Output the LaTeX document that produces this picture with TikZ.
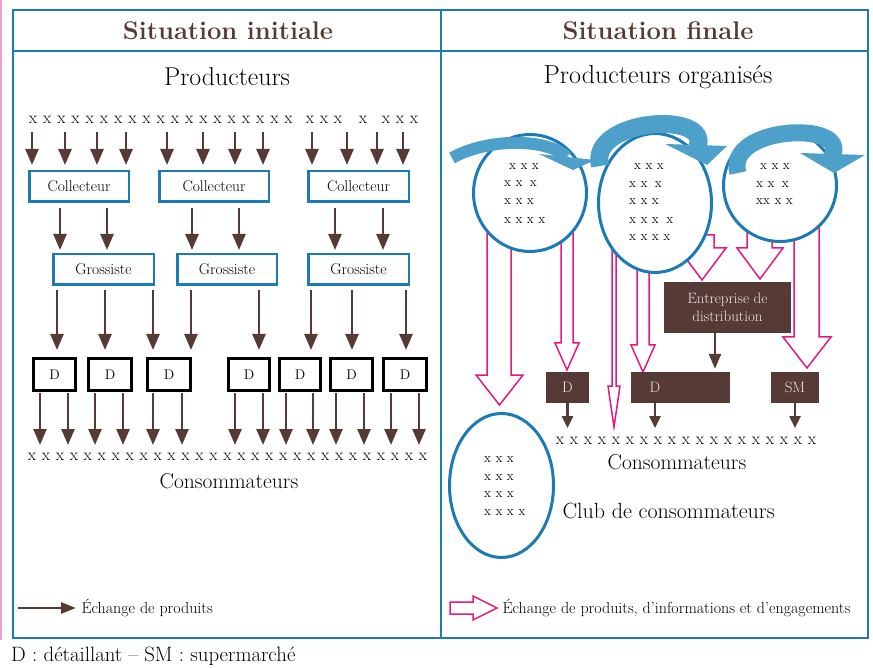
\documentclass[tikz,border=0pt]{standalone}
\usetikzlibrary{arrows.meta,shapes.geometric}
\definecolor{brn}{RGB}{85,58,53}
\definecolor{frameblue}{RGB}{28,122,180}
\definecolor{arrblue}{RGB}{76,160,202}
\definecolor{pnk}{RGB}{229,25,127}
\definecolor{lpnk}{RGB}{236,160,205}
\definecolor{boxtxt}{RGB}{240,232,228}
\begin{document}
\begin{tikzpicture}[x=1pt,y=-1pt,
 fs/.style={font=\fontsize{#1}{#1}\selectfont},
 brarrow/.style={draw=brn, line width=2.5pt, -{Triangle[width=13pt,length=16pt]}},
 smarrow/.style={draw=brn, line width=2.5pt, -{Triangle[width=11pt,length=12pt]}},
 bluebox/.style={draw=frameblue, line width=2.5pt, fill=white, minimum height=30.5pt, inner sep=0pt, font=\fontsize{15.5}{15.5}\selectfont},
 dbox/.style={draw=black, line width=3pt, fill=white, minimum height=32pt, inner sep=0pt, font=\fontsize{14}{14}\selectfont},
 brbox/.style={fill=brn, text=boxtxt, inner sep=0pt, minimum height=31pt, font=\fontsize{15}{15}\selectfont},
 pinkarr/.style={draw=pnk, line width=1.5pt, fill=white, line join=miter},
 circ/.style={draw=frameblue, line width=3pt, fill=white, ellipse, inner sep=0pt},
 bluearr/.style={draw=arrblue, line cap=butt},
 bluehead/.style={fill=arrblue},
 xs/.style={font=\fontsize{13.5}{13.5}\selectfont, anchor=west, inner sep=0pt},
 bigx/.style={font=\fontsize{17}{17}\selectfont, inner sep=0pt},
]
\useasboundingbox (0,0) rectangle (873,668);
% left pink edge
\draw[lpnk, line width=1.5pt] (1,0) -- (1,640);
% frame
\draw[frameblue, line width=2.5pt] (13,10) rectangle (868,638);
\draw[frameblue, line width=2.5pt] (441,10) -- (441,638);
\draw[frameblue, line width=2.5pt] (13,51) -- (868,51);
% headers
\node[text=brn, font=\fontsize{25.5}{25.5}\selectfont\bfseries] (h1) at (228,31) {Situation initiale};
\node[text=brn, font=\fontsize{25.5}{25.5}\selectfont\bfseries] (h2) at (658,31) {Situation finale};
\node[fs=25.8] (prodL) at (227,77) {Producteurs};
\node[fs=26] (prodR) at (658,77) {Producteurs organisés};

%% ---------------- LEFT PANEL ----------------
% producer row
\foreach \x [count=\i] in {33,47.2,61.4,75.6,89.8,104,118.2,132.4,146.6,160.8,175,189.2,203.4,217.6,231.8,246,260.2,274.4,288.6,310,324,338,363,386,400,414}
  \node[bigx] (p\i) at (\x,120) {x};
% boxes
\node[bluebox, minimum width=99.5pt]  (coll1) at (79,186.5) {Collecteur};
\node[bluebox, minimum width=109.5pt] (coll2) at (214,186.5) {Collecteur};
\node[bluebox, minimum width=100.5pt] (coll3) at (358.5,186.5) {Collecteur};
\node[bluebox, minimum width=100.5pt] (gro1) at (103.5,269.5) {Grossiste};
\node[bluebox, minimum width=99.5pt]  (gro2) at (227,269.5) {Grossiste};
\node[bluebox, minimum width=100.5pt] (gro3) at (358.5,269.5) {Grossiste};
\node[dbox, minimum width=42pt] (d1) at (54.5,374.5) {D};
\node[dbox, minimum width=43pt] (d2) at (110,374.5) {D};
\node[dbox, minimum width=43pt] (d3) at (169,374.5) {D};
\node[dbox, minimum width=41pt] (d4) at (249,374.5) {D};
\node[dbox, minimum width=41pt] (d5) at (300,374.5) {D};
\node[dbox, minimum width=42pt] (d6) at (351.5,374.5) {D};
\node[dbox, minimum width=43pt] (d7) at (405,374.5) {D};
% producers -> collecteurs
\foreach \x in {32,65,97,126} \draw[brarrow, shorten >=5pt] (\x,132) -- (coll1.north -| \x,0);
\foreach \x in {167,203,235,263} \draw[brarrow, shorten >=5pt] (\x,132) -- (coll2.north -| \x,0);
\foreach \x in {312,347,377,403} \draw[brarrow, shorten >=5pt] (\x,132) -- (coll3.north -| \x,0);
% collecteurs -> grossistes
\foreach \x in {60,107} \draw[brarrow, shorten <=5pt, shorten >=3pt] (coll1.south -| \x,0) -- (gro1.north -| \x,0);
\foreach \x in {192,239} \draw[brarrow, shorten <=5pt, shorten >=3pt] (coll2.south -| \x,0) -- (gro2.north -| \x,0);
\foreach \x in {335,383} \draw[brarrow, shorten <=5pt, shorten >=3pt] (coll3.south -| \x,0) -- (gro3.north -| \x,0);
% grossistes -> D
\draw[brarrow, shorten <=4pt, shorten >=7pt] (gro1.south -| 57,0) -- (d1.north -| 57,0);
\draw[brarrow, shorten <=4pt, shorten >=7pt] (gro1.south -| 105,0) -- (d2.north -| 105,0);
\draw[brarrow, shorten <=4pt, shorten >=7pt] (gro1.south -| 153,0) -- (d3.north -| 153,0);
\draw[brarrow, shorten <=4pt, shorten >=7pt] (gro2.south -| 191,0) -- (d3.north -| 191,0);
\draw[brarrow, shorten <=4pt, shorten >=7pt] (gro2.south -| 259,0) -- (d4.north -| 259,0);
\draw[brarrow, shorten <=4pt, shorten >=7pt] (gro3.south -| 311,0) -- (d5.north -| 311,0);
\draw[brarrow, shorten <=4pt, shorten >=7pt] (gro3.south -| 352,0) -- (d6.north -| 352,0);
\draw[brarrow, shorten <=4pt, shorten >=7pt] (gro3.south -| 406,0) -- (d7.north -| 406,0);
% consumers row
\foreach \i in {0,...,28} \node[bigx] (cL\i) at ({32+\i*13.96},457) {x};
\coordinate (endL) at (0,445);
% D -> consumers
\foreach \x in {40,68} \draw[brarrow, shorten <=1pt] (d1.south -| \x,0) -- (endL -| \x,0);
\foreach \x in {95,123} \draw[brarrow, shorten <=1pt] (d2.south -| \x,0) -- (endL -| \x,0);
\foreach \x in {153,182} \draw[brarrow, shorten <=1pt] (d3.south -| \x,0) -- (endL -| \x,0);
\foreach \x in {235,263} \draw[brarrow, shorten <=1pt] (d4.south -| \x,0) -- (endL -| \x,0);
\foreach \x in {286,313} \draw[brarrow, shorten <=1pt] (d5.south -| \x,0) -- (endL -| \x,0);
\foreach \x in {336,364} \draw[brarrow, shorten <=1pt] (d6.south -| \x,0) -- (endL -| \x,0);
\foreach \x in {391,419} \draw[brarrow, shorten <=1pt] (d7.south -| \x,0) -- (endL -| \x,0);
\node[fs=21.5] (consL) at (229,481) {Consommateurs};

%% ---------------- RIGHT PANEL ----------------
% pink open arrows (drawn first, circles cover their tails)
\draw[pinkarr] (487,225) -- (487,375) -- (476,375) -- (499.5,405) -- (523,375) -- (511,375) -- (511,225) -- cycle;
\draw[pinkarr] (561,225) -- (561,343) -- (555,343) -- (567,370) -- (579,343) -- (573,343) -- (573,225) -- cycle;
\draw[pinkarr] (612,245) -- (612,386) -- (608,386) -- (614,427) -- (620,386) -- (616,386) -- (616,245) -- cycle;
\draw[pinkarr] (637,250) -- (637,345) -- (631,345) -- (643,372) -- (655,345) -- (649,345) -- (649,250) -- cycle;
\draw[pinkarr] (690,235) -- (690,248) -- (678,248) -- (702,280) -- (726,248) -- (714,248) -- (714,235) -- cycle;
\draw[pinkarr] (747,225) -- (747,248) -- (737,248) -- (760,279) -- (783,248) -- (772,248) -- (772,225) -- cycle;
\draw[pinkarr] (794,220) -- (794,337) -- (783,337) -- (807,368) -- (831,337) -- (819,337) -- (819,220) -- cycle;
% producer circles
\node[circ, minimum width=113pt, minimum height=117pt] (c1) at (530,193) {};
\node[circ, minimum width=113pt, minimum height=139pt] (c2) at (655,203) {};
\node[circ, minimum width=113pt, minimum height=112pt] (c3) at (780,185.5) {};
\node[circ, minimum width=104pt, minimum height=144pt] (club) at (501.5,485.5) {};
% texts in circles
\node[xs] at (509,167) {x x x};
\node[xs] at (504,184) {x x\hspace{3pt} x};
\node[xs] at (504,202) {x x x};
\node[xs] at (504,221) {x x x x};
\node[xs] at (634,167) {x x x};
\node[xs] at (629,185) {x x\hspace{3pt} x};
\node[xs] at (629,202) {x x x};
\node[xs] at (629,221) {x x x\hspace{3pt} x};
\node[xs] at (629,238) {x x x x};
\node[xs] at (760,167) {x x x};
\node[xs] at (756,185) {x x\hspace{3pt} x};
\node[xs] at (756,202) {xx x x};
\node[xs] at (484,460) {x x x};
\node[xs] at (484,478) {x x x};
\node[xs] at (484,495) {x x x};
\node[xs] at (484,513) {x x x x};
% blue curved arrows
\draw[bluearr, line width=12pt] (452,158) .. controls (485,139) and (545,137) .. (567,157);
\fill[bluehead] (539,154) -- (595,160) -- (573,170) -- cycle;
\draw[bluearr, line width=18pt] (600,166) .. controls (588,118) and (714,110) .. (697,148);
\fill[bluehead] (665,144) -- (727,146) -- (707,165) -- cycle;
\draw[bluearr, line width=17pt] (738,173) .. controls (724,126) and (851,120) .. (832,156);
\fill[bluehead] (800,153) -- (865,155) -- (834,173) -- cycle;
% brown boxes
\node[brbox, minimum width=127pt, minimum height=51pt, align=center, font=\fontsize{15}{18}\selectfont] (ent) at (727.5,307.5) {Entreprise de\\distribution};
\node[brbox, minimum width=43pt] (dr1) at (567.5,387.5) {D};
\node[brbox, minimum width=99pt] (dr2) at (680.5,387.5) {};
\node[text=boxtxt, inner sep=0pt, font=\fontsize{15}{15}\selectfont] (dr2t) at (655,387.5) {D};
\node[brbox, minimum width=48pt] (sm) at (795,387.5) {SM};
\draw[brarrow, -{Triangle[width=12pt,length=15pt]}, shorten >=3pt] (ent.south -| 715,0) -- (dr2.north -| 715,0);
% consumers row right
\foreach \i in {0,...,18} \node[bigx] (cR\i) at ({560+\i*14},441) {x};
\coordinate (endR) at (0,428);
\draw[smarrow] (dr1.south) -- (endR -| dr1.south);
\draw[smarrow] (dr2.south -| dr2t) -- (endR -| dr2t);
\draw[smarrow] (sm.south) -- (endR -| sm.south);
\node[fs=21.5] (consR) at (677,462) {Consommateurs};
\node[fs=22, anchor=west] (clubt) at (559,511) {Club de consommateurs};

%% ---------------- LEGENDS ----------------
\coordinate (lg1s) at (18,608);
\coordinate (lg1e) at (76,608);
\draw[draw=brn, line width=2.5pt, -{Triangle[width=11pt,length=15pt]}] (lg1s) -- (lg1e);
\node[fs=16, anchor=west] (lg1) at (78,608) {Échange de produits};
\draw[pinkarr] (450,602) -- (473,602) -- (473,596) -- (497,608) -- (473,620) -- (473,614) -- (450,614) -- cycle;
\node[fs=16, anchor=west] (lg2) at (499,608) {Échange de produits, d’informations et d’engagements};
\node[fs=20.8, anchor=west, inner sep=0pt] (foot) at (11,656) {D : détaillant -- SM : supermarché};
\end{tikzpicture}
\end{document}
